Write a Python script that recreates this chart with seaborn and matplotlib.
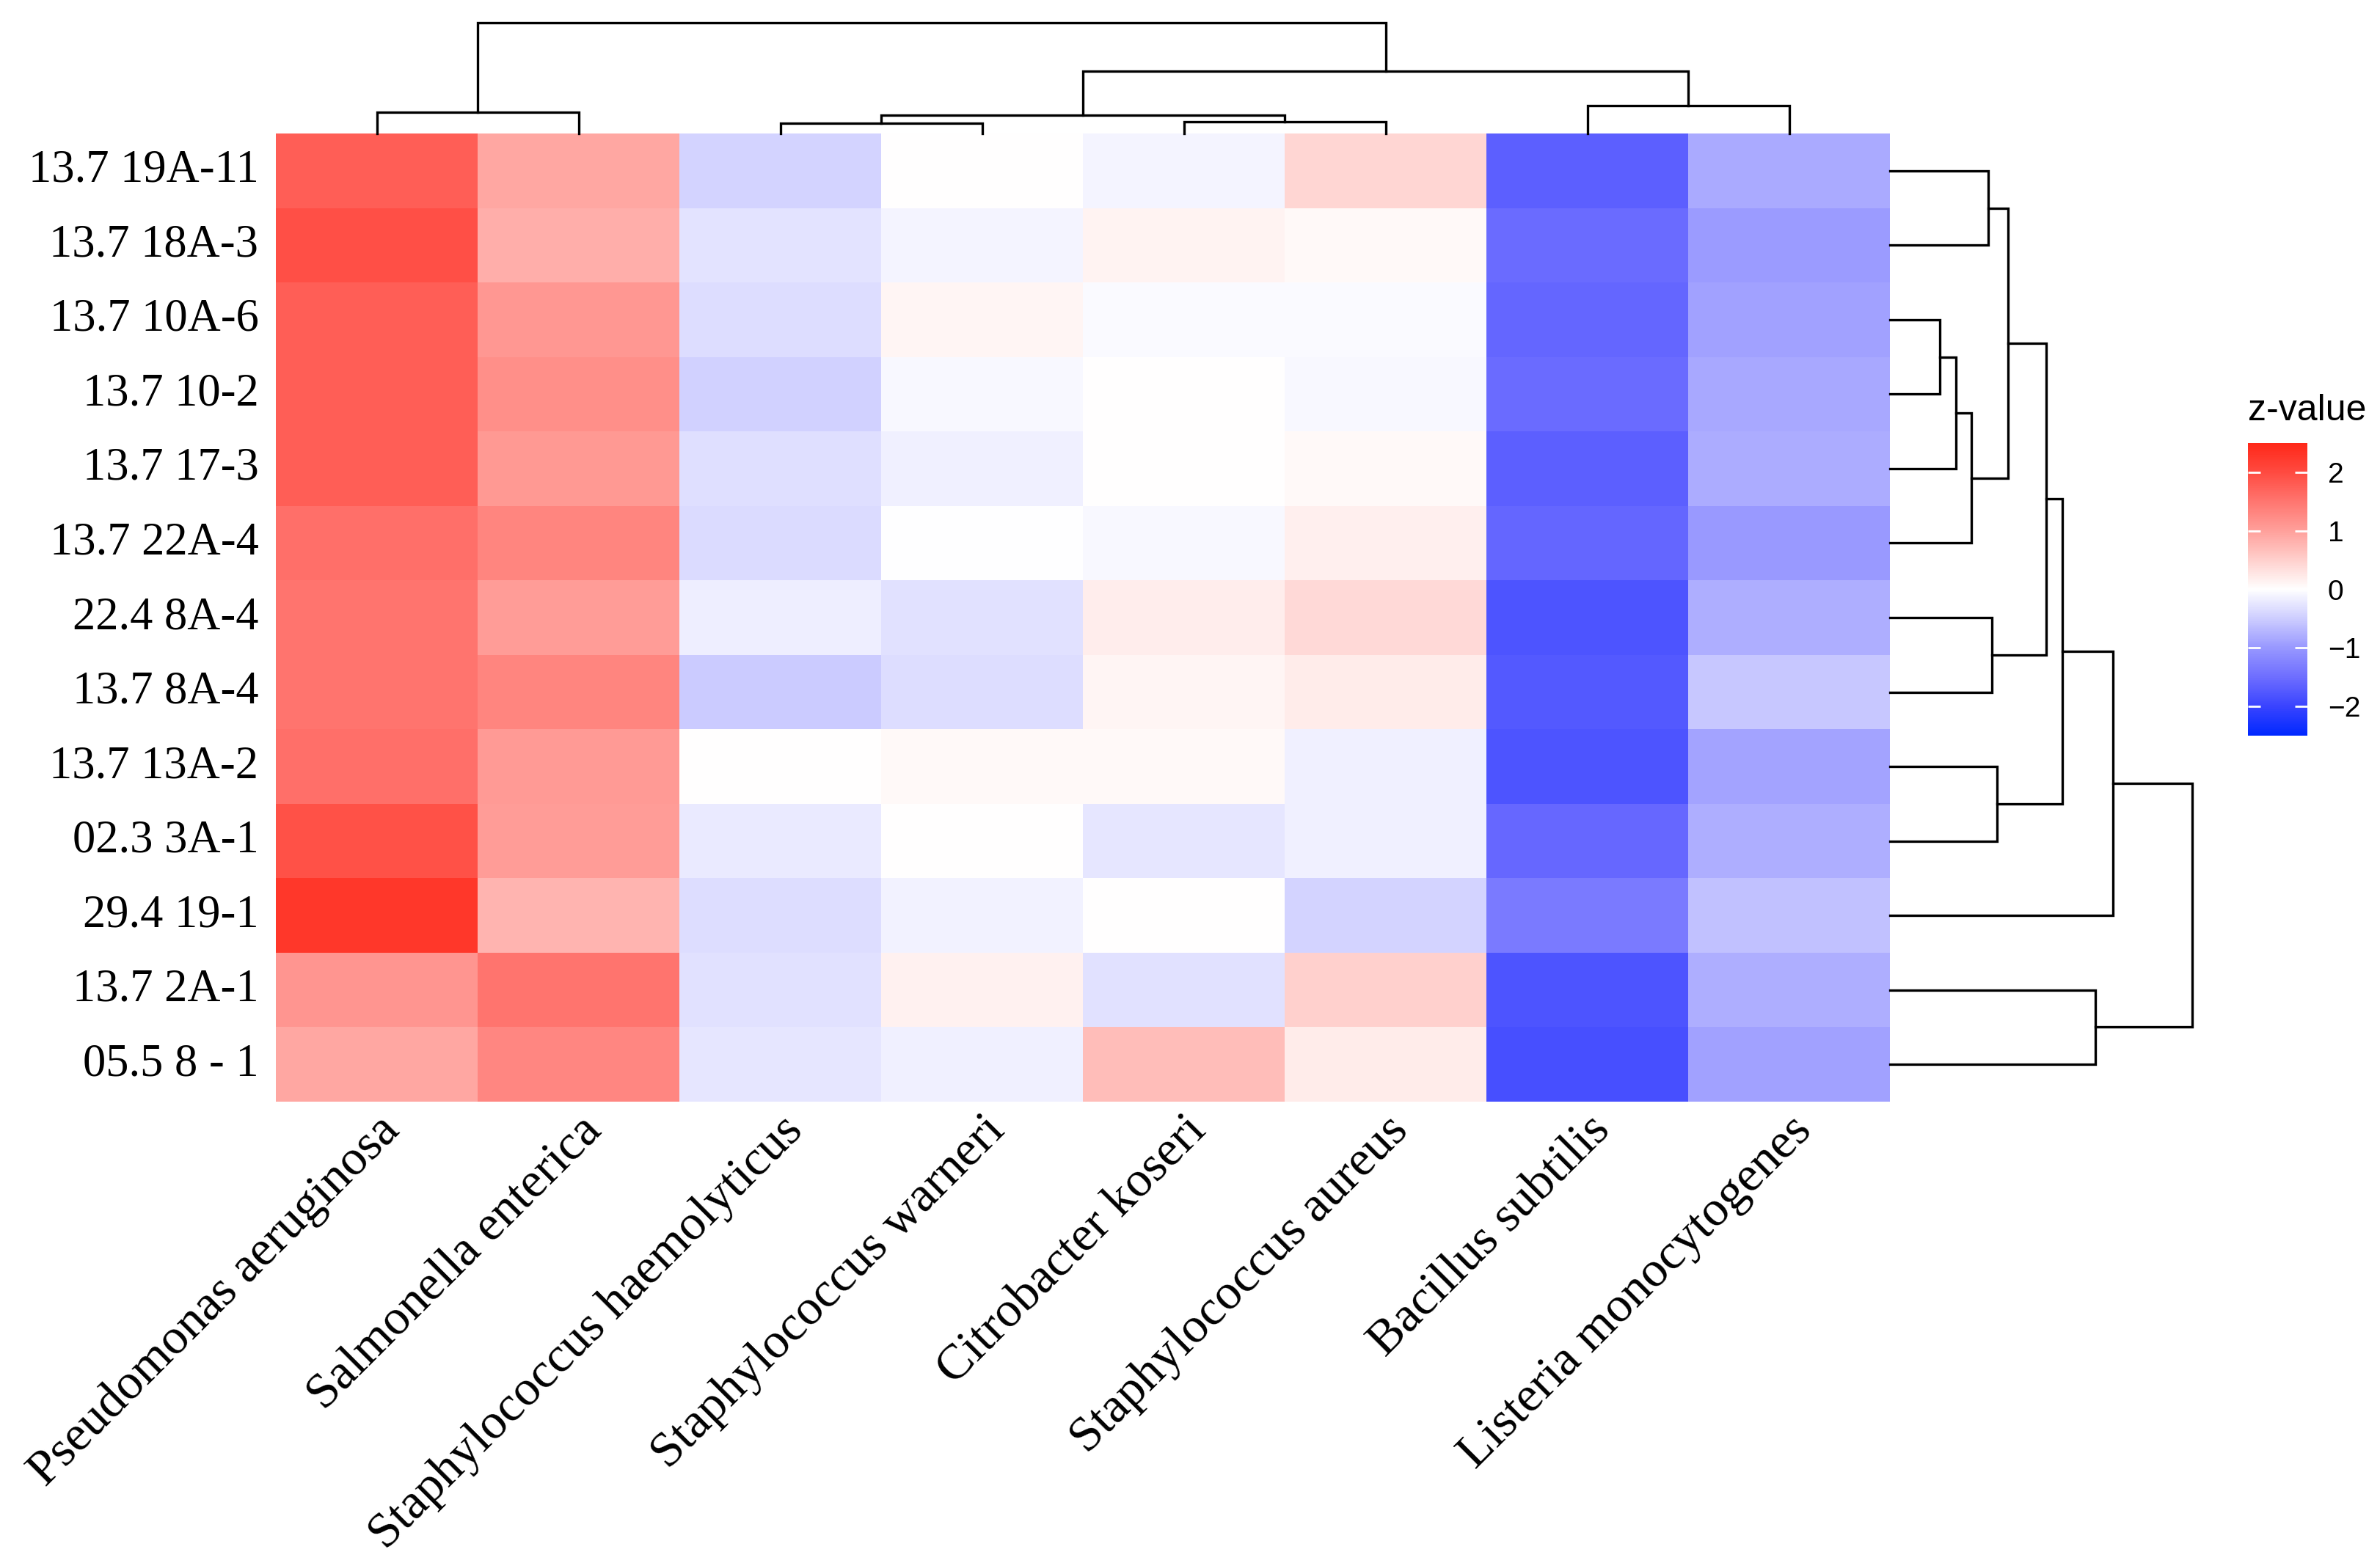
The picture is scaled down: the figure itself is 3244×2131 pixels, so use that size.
import matplotlib
matplotlib.use("Agg")
import numpy as np
import pandas as pd
import matplotlib.pyplot as plt
import seaborn as sns
from matplotlib.colors import LinearSegmentedColormap

# row / column labels in displayed (clustered) order
samples = ["13.7 19A-11", "13.7 18A-3", "13.7 10A-6", "13.7 10-2", "13.7 17-3",
           "13.7 22A-4", "22.4 8A-4", "13.7 8A-4", "13.7 13A-2", "02.3 3A-1",
           "29.4 19-1", "13.7 2A-1", "05.5 8 - 1"]
species = ["Pseudomonas aeruginosa", "Salmonella enterica", "Staphylococcus haemolyticus",
           "Staphylococcus warneri", "Citrobacter koseri", "Staphylococcus aureus",
           "Bacillus subtilis", "Listeria monocytogenes"]

# z-values, one list per species (rows in sample order)
pseudomonas = [1.77, 1.94, 1.77, 1.77, 1.76, 1.57, 1.51, 1.51, 1.57, 1.92, 2.27, 1.12, 0.93]
salmonella = [0.92, 0.85, 1.10, 1.20, 1.08, 1.32, 1.04, 1.32, 1.07, 1.05, 0.80, 1.51, 1.29]
s_haemolyticus = [-0.44, -0.29, -0.35, -0.45, -0.33, -0.37, -0.16, -0.51, 0.01, -0.20, -0.34, -0.30, -0.25]
s_warneri = [0.0, -0.11, 0.10, -0.06, -0.15, -0.01, -0.30, -0.35, 0.06, 0.0, -0.12, 0.14, -0.15]
citrobacter = [-0.11, 0.13, -0.05, 0.0, 0.0, -0.07, 0.18, 0.11, 0.06, -0.24, 0.0, -0.31, 0.69]
s_aureus = [0.44, 0.07, -0.05, -0.07, 0.07, 0.16, 0.40, 0.20, -0.15, -0.15, -0.43, 0.49, 0.21]
bacillus = [-1.67, -1.54, -1.59, -1.53, -1.67, -1.59, -1.80, -1.74, -1.80, -1.58, -1.35, -1.80, -1.87]
listeria = [-0.83, -0.96, -0.90, -0.84, -0.81, -0.99, -0.80, -0.56, -0.88, -0.79, -0.61, -0.79, -0.90]

# dendrograms: (child a, child b, height); ids >= n are earlier merges
col_merges = [(0, 1, 2.9), (2, 3, 1.4), (4, 5, 1.6), (9, 10, 2.5),
              (6, 7, 3.8), (11, 12, 8.5), (8, 13, 15.1)]
row_merges = [(0, 1, 1.34), (2, 3, 0.68), (14, 4, 0.90), (15, 5, 1.11),
              (13, 16, 1.61), (6, 7, 1.39), (17, 18, 2.13), (8, 9, 1.46),
              (19, 20, 2.35), (21, 10, 3.04), (11, 12, 2.80), (22, 23, 4.12)]

df = pd.DataFrame({
    species[0]: pseudomonas, species[1]: salmonella, species[2]: s_haemolyticus,
    species[3]: s_warneri, species[4]: citrobacter, species[5]: s_aureus,
    species[6]: bacillus, species[7]: listeria,
}, index=samples)

# blue - white - red gradient like the reference legend
zmin, zmax = -2.5, 2.5
stops = [(-2.5, "#0028ff"), (-2.0, "#3a44ff"), (-1.5, "#6e6eff"), (-1.0, "#9898ff"),
         (-0.5, "#cdcdff"), (0.0, "#ffffff"), (0.5, "#ffd0cd"), (1.0, "#ffa09b"),
         (1.5, "#ff7670"), (2.0, "#ff4b41"), (2.5, "#ff2819")]
cmap = LinearSegmentedColormap.from_list(
    "zval", [((v - zmin) / (zmax - zmin), c) for v, c in stops])

W, H = 3244, 2131
fig = plt.figure(figsize=(W / 200, H / 200), dpi=200)


def box(x0, y0, x1, y1):
    # pixel box (top-left origin) -> figure fraction
    return [x0 / W, 1 - y1 / H, (x1 - x0) / W, (y1 - y0) / H]


hx0, hy0, hx1, hy1 = 376, 182, 2576, 1502
ax = fig.add_axes(box(hx0, hy0, hx1, hy1))
cax = fig.add_axes(box(3064, 604, 3145, 1003))
ax_top = fig.add_axes(box(hx0, hy0 - 151, hx1, hy0))
ax_right = fig.add_axes(box(hx1, hy0, hx1 + 412, hy1))

sns.heatmap(df, ax=ax, cmap=cmap, vmin=zmin, vmax=zmax, cbar_ax=cax,
            cbar_kws={"ticks": [-2, -1, 0, 1, 2]})

serif = "Liberation Serif"
ax.set_yticks(np.arange(len(samples)) + 0.5)
ax.set_yticklabels(samples, rotation=0, fontsize=22.5, family=serif)
ax.set_xticks(np.arange(len(species)) + 0.5)
ax.set_xticklabels(species, rotation=45, ha="right", va="top",
                   rotation_mode="anchor", fontsize=24.5, family=serif)
ax.tick_params(length=0)
ax.tick_params(axis="y", pad=8.5)
ax.tick_params(axis="x", pad=3)
ax.set_xlabel("")
ax.set_ylabel("")

cbar = ax.collections[0].colorbar
cbar.outline.set_visible(False)
cax.tick_params(direction="in", length=6, width=1.0, color="white",
                left=True, right=True, labelsize=14, pad=10)
for t in cax.get_yticklabels():
    t.set_family("Liberation Sans")
fig.text(3064 / W, 1 - 560 / H, "z-value", fontsize=18, family="Liberation Sans",
         ha="left", va="center")


def draw_dendro(axis, n, merges, horizontal):
    pos = [i + 0.5 for i in range(n)]
    hgt = [0.0] * n
    for a, b, h in merges:
        p = [pos[a], pos[a], pos[b], pos[b]]
        q = [hgt[a], h, h, hgt[b]]
        if horizontal:
            axis.plot(q, p, color="black", lw=1.2, clip_on=False, solid_joinstyle="miter")
        else:
            axis.plot(p, q, color="black", lw=1.2, clip_on=False, solid_joinstyle="miter")
        pos.append((pos[a] + pos[b]) / 2)
        hgt.append(h)
    axis.axis("off")


draw_dendro(ax_top, len(species), col_merges, horizontal=False)
ax_top.set_xlim(0, len(species))
ax_top.set_ylim(0, col_merges[-1][2])

draw_dendro(ax_right, len(samples), row_merges, horizontal=True)
ax_right.set_ylim(len(samples), 0)
ax_right.set_xlim(0, row_merges[-1][2])

fig.savefig("out.png", dpi=200, facecolor="white")
